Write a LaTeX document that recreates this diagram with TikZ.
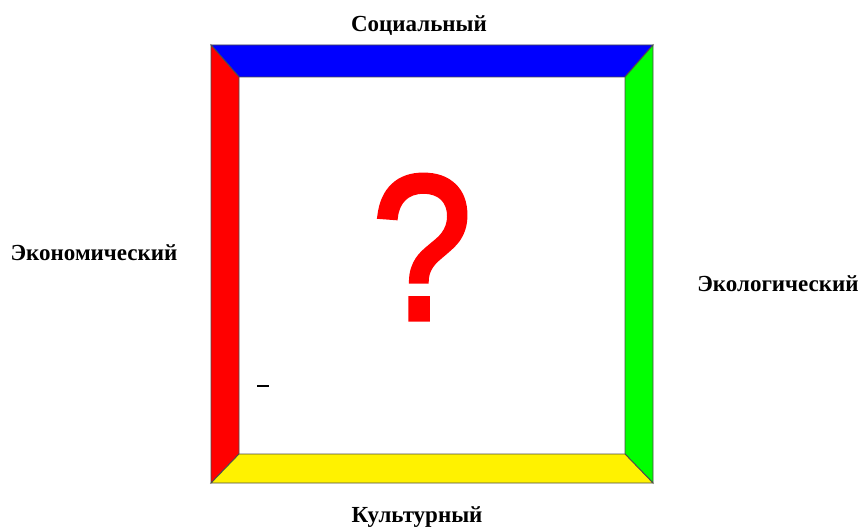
\documentclass[tikz,border=0pt]{standalone}
\usepackage{fontspec}
\setmainfont{Liberation Serif}
\newfontfamily\qfont[FakeBold=2.5]{Liberation Sans}
\usetikzlibrary{positioning}

\begin{document}
\begin{tikzpicture}[x=1pt,y=-1pt,
    side/.style={draw=black!70,line width=0.9pt,line join=miter},
    sidename/.style={font=\bfseries\fontsize{23}{25}\selectfont,inner sep=0pt,anchor=base}]
                \useasboundingbox (0,0) rectangle (864,529);

                % Frame corners
                \coordinate (otl) at (211,45);
                \coordinate (otr) at (653,45);
                \coordinate (obr) at (653,483);
                \coordinate (obl) at (211,483);
                \coordinate (itl) at (239,77);
                \coordinate (itr) at (625,77);
                \coordinate (ibr) at (625,454);
                \coordinate (ibl) at (239,454);

                % Four sides
                \draw[side,fill=blue] (otl) -- (otr) -- (itr) -- (itl) -- cycle;
                \draw[side,fill=red] (otl) -- (itl) -- (ibl) -- (obl) -- cycle;
                \draw[side,fill=green] (otr) -- (obr) -- (ibr) -- (itr) -- cycle;
                \draw[side,fill=yellow] (obl) -- (obr) -- (ibr) -- (ibl) -- cycle;

                % Centre mark
                \node[text=red,font=\qfont\fontsize{206}{206}\selectfont,inner sep=0pt,anchor=base,xscale=0.87,transform shape] (quest) at (422,319) {?};
                \draw[line width=1.8pt] (257,386) -- (269,386);

                % Side names
                \node[sidename] (soc) at (419,32) {Социальный};
                \node[sidename] (eco) at (94,261) {Экономический};
                \node[sidename] (ecol) at (778,291) {Экологический};
                \node[sidename] (cult) at (417,522) {Культурный};
            \end{tikzpicture}
\end{document}
